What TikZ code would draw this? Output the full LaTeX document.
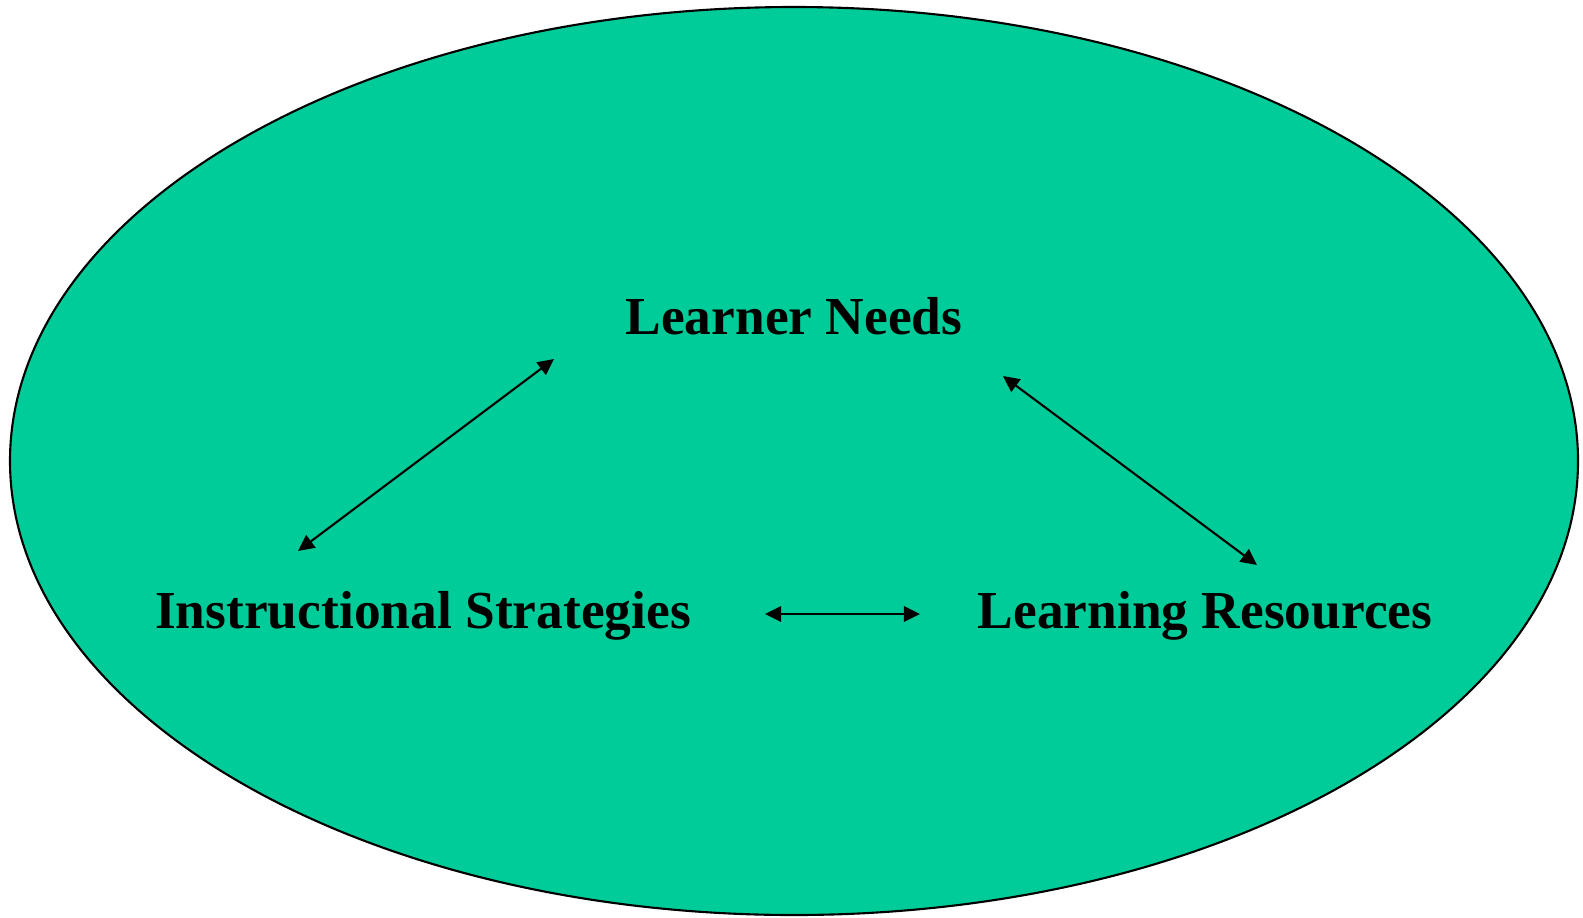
\documentclass[tikz,border=0pt]{standalone}
\usepackage{fontspec}
\setmainfont{Liberation Serif}
\usepackage{tikz}
\usetikzlibrary{arrows.meta}
\usepackage{xcolor}
\definecolor{seagreen}{RGB}{0,204,153}

\begin{document}
\begin{tikzpicture}[>={Triangle[length=4.6pt,width=4.4pt]},line cap=round,
  lbl/.style={font=\fontsize{15.2}{18}\selectfont\bfseries,inner sep=0pt,anchor=base},
  link/.style={<->,line width=0.6pt}]
\useasboundingbox (0,0) rectangle (15.83,9.17);
\draw[fill=seagreen,line width=0.6pt] (7.94,4.56) ellipse[x radius=7.84,y radius=4.54];
\node[lbl] (needs) at (7.94,5.83) {Learner Needs};
\node[lbl] (strat) at (4.23,2.89) {Instructional Strategies};
\node[lbl] (res) at (12.05,2.89) {Learning Resources};
\draw[link] ([shift={(-1.25,0.77)}]strat.base) -- ([shift={(-2.40,-0.25)}]needs.base);
\draw[link] ([shift={(2.09,-0.42)}]needs.base) -- ([shift={(0.52,0.63)}]res.base);
\draw[link] ([shift={(0.735,0.14)}]strat.base east) -- ([shift={(-0.57,0.14)}]res.base west);
\end{tikzpicture}
\end{document}
